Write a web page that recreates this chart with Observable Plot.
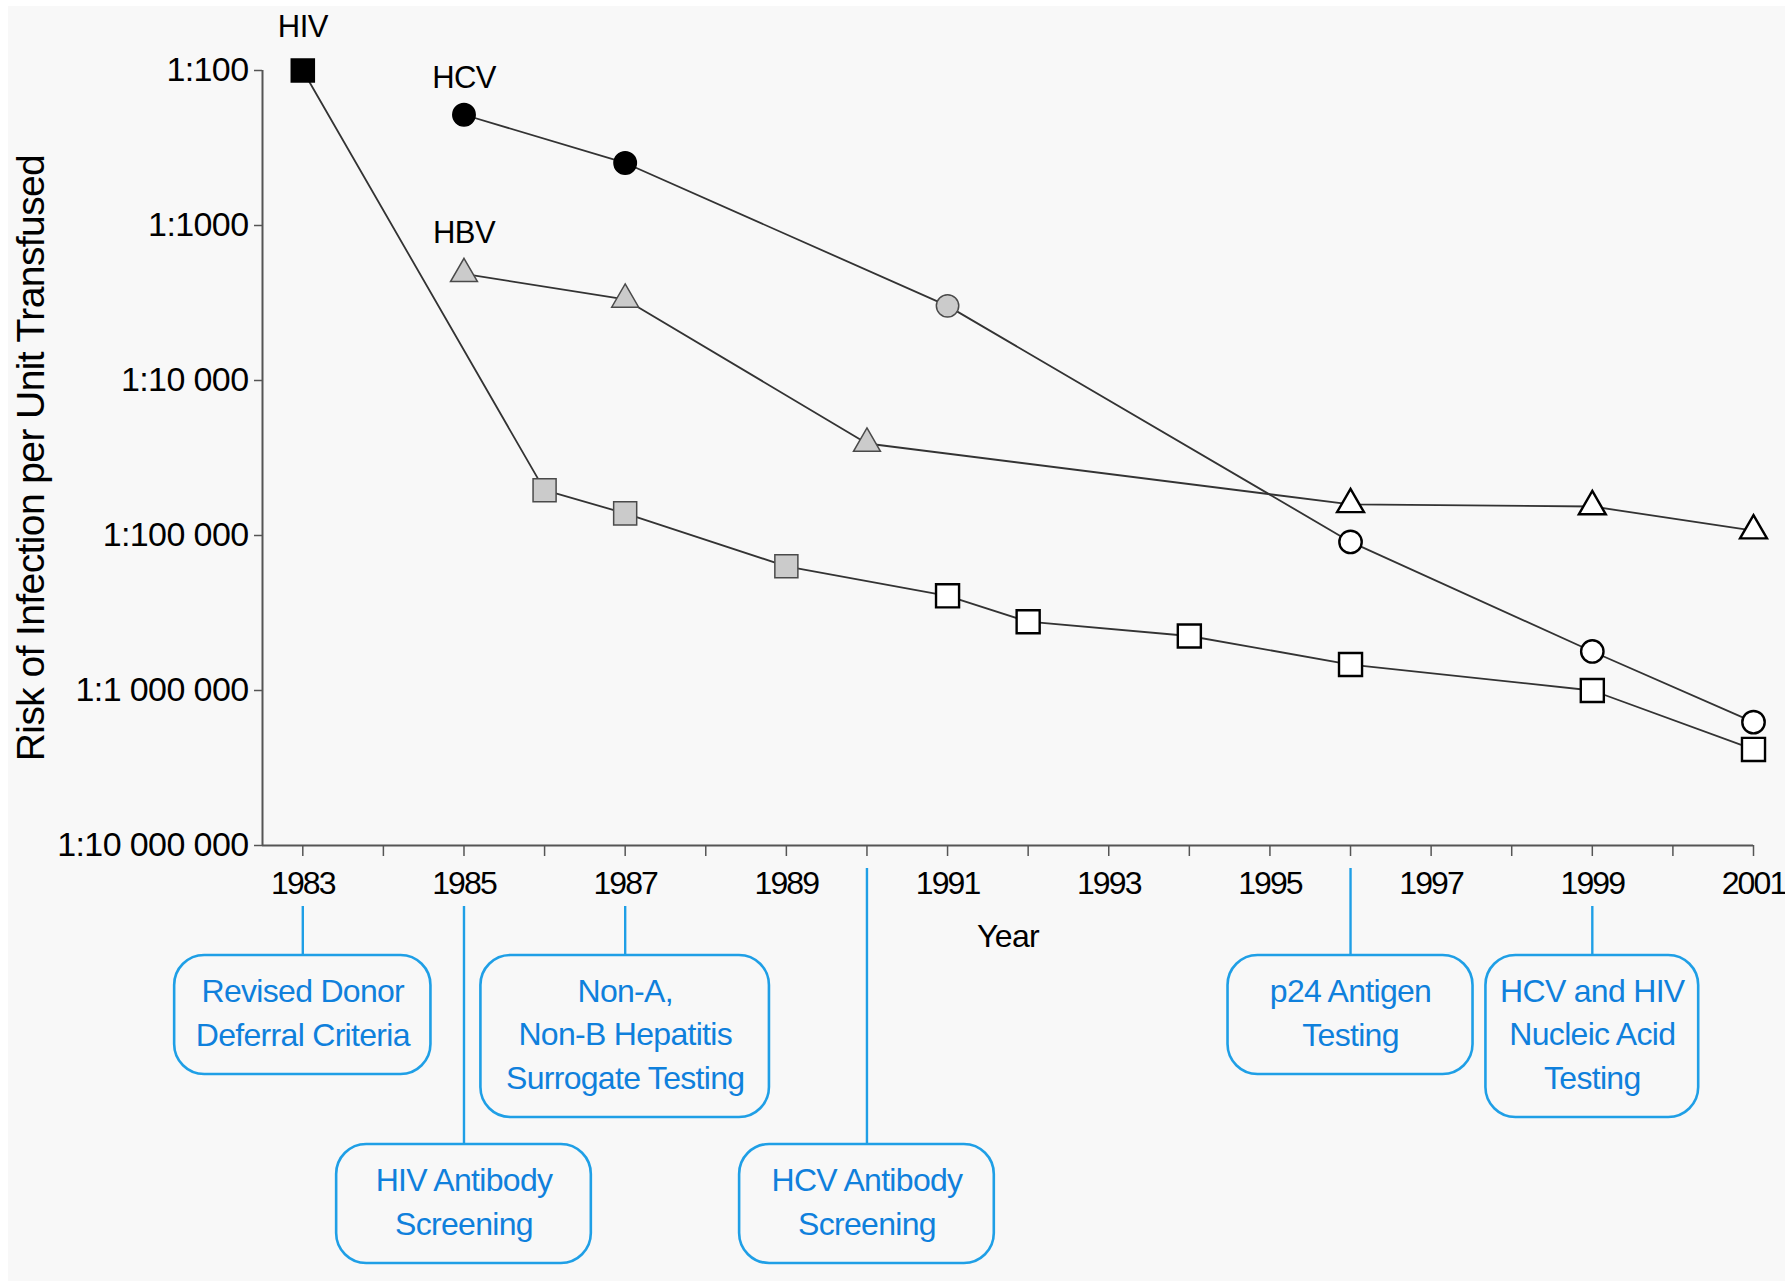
<!DOCTYPE html>
<html>
<head>
<meta charset="utf-8">
<script src="https://cdn.jsdelivr.net/npm/d3@7"></script>
<script src="https://cdn.jsdelivr.net/npm/@observablehq/plot@0.6"></script>
<style>
  html, body { margin: 0; padding: 0; background: #ffffff; overflow: hidden; }
  #wrap { position: relative; width: 1785px; height: 1281px; overflow: hidden; }
  #bg { position: absolute; left: 8px; top: 6px; right: 0; bottom: 0; background: #f8f8f8; }
  #chart { position: absolute; left: 0; top: 0; }
  #notes { position: absolute; left: 0; top: 846px; }
  #chart g[aria-label="x-axis tick label"] { letter-spacing: -1.9px; }
</style>
</head>
<body>
<div id="wrap"><div id="bg"></div><div id="chart"></div><div id="notes"></div></div>
<script>
// ---------------- data ----------------
const hivYears = [1983, 1986, 1987, 1989, 1991, 1992, 1994, 1996, 1999, 2001];
const hivRisk  = [100, 51000, 72000, 158000, 245000, 360000, 445000, 680000, 1000000, 2400000];
const hivStage = ["early", "mid", "mid", "mid", "late", "late", "late", "late", "late", "late"];

const hcvYears = [1985, 1987, 1991, 1996, 1999, 2001];
const hcvRisk  = [193, 395, 3300, 110000, 560000, 1600000];
const hcvStage = ["early", "early", "mid", "late", "late", "late"];

const hbvYears = [1985, 1987, 1990, 1996, 1999, 2001];
const hbvRisk  = [2050, 3000, 25500, 63000, 65000, 93000];
const hbvStage = ["mid", "mid", "mid", "late", "late", "late"];

const seriesNames = ["HIV", "HCV", "HBV"];

const yTicks = [100, 1000, 10000, 100000, 1000000, 10000000];
const yTickLabels = ["1:100", "1:1000", "1:10 000", "1:100 000", "1:1 000 000", "1:10 000 000"];
const xTicks = [1983, 1984, 1985, 1986, 1987, 1988, 1989, 1990, 1991, 1992, 1993, 1994, 1995, 1996, 1997, 1998, 1999, 2000, 2001];

const eventYears  = [1983, 1985, 1987, 1990, 1996, 1999];
const eventLabels = [
  "Revised Donor\nDeferral Criteria",
  "HIV Antibody\nScreening",
  "Non-A,\nNon-B Hepatitis\nSurrogate Testing",
  "HCV Antibody\nScreening",
  "p24 Antigen\nTesting",
  "HCV and HIV\nNucleic Acid\nTesting"
];

const yTitle = "Risk of Infection per Unit Transfused";
const xTitle = "Year";

// ---------------- layout / style ----------------
const W = 1785, H = 1281;
const FONT = "'Liberation Sans', Arial, Helvetica, sans-serif";
const xDomain = [1982.5, 2001];
const mLeft = 262, mRight = 32, mTop = 70, plotBottom = 845;
const lineColor = "#333333";
const blue = "#1f9fe6", blueText = "#0f80dc";

const symbolOf = {HIV: "square", HCV: "circle", HBV: "triangle"};
const rOf = {HIV: 13, HCV: 11.2, HBV: 10};
const labelDy = {HIV: -43, HCV: -37, HBV: -41};
const stageStyle = {
  early: {fill: "#000000", stroke: "#000000", strokeWidth: 1.5},
  mid:   {fill: "#cbcbcb", stroke: "#4a4a4a", strokeWidth: 1.5},
  late:  {fill: "#ffffff", stroke: "#000000", strokeWidth: 2.4}
};

const seriesData = {
  HIV: hivYears.map((y, i) => ({series: "HIV", year: y, risk: hivRisk[i], stage: hivStage[i]})),
  HCV: hcvYears.map((y, i) => ({series: "HCV", year: y, risk: hcvRisk[i], stage: hcvStage[i]})),
  HBV: hbvYears.map((y, i) => ({series: "HBV", year: y, risk: hbvRisk[i], stage: hbvStage[i]}))
};
const points = seriesNames.flatMap(s => seriesData[s]);
const tickLabel = new Map(yTicks.map((t, i) => [t, yTickLabels[i]]));

const marks = [
  Plot.ruleY([yTicks[yTicks.length - 1]], {stroke: "#555", strokeWidth: 2}),
  Plot.ruleX([xDomain[0]], {stroke: "#555", strokeWidth: 2}),
  Plot.axisY({ticks: yTicks, tickFormat: d => tickLabel.get(d), tickSize: 8, tickPadding: 6,
              fontSize: 34, label: null, stroke: "#555", strokeWidth: 1.5}),
  Plot.axisX({ticks: xTicks, tickFormat: d => (d % 2 ? String(d) : ""), tickSize: 11, tickPadding: 15,
              fontSize: 32, label: null, stroke: "#555", strokeWidth: 1.5}),
  Plot.line(points, {x: "year", y: "risk", z: "series", stroke: lineColor, strokeWidth: 1.8})
];
for (const s of seriesNames) {
  for (const st of ["early", "mid", "late"]) {
    const sub = seriesData[s].filter(d => d.stage === st);
    if (!sub.length) continue;
    marks.push(Plot.dot(sub, {x: "year", y: "risk", symbol: symbolOf[s], r: rOf[s], ...stageStyle[st]}));
  }
  marks.push(Plot.text(seriesData[s].slice(0, 1), {x: "year", y: "risk", text: "series", dy: labelDy[s],
    fontSize: 31, fill: "#000", textAnchor: "middle"}));
}
marks.push(Plot.text([yTitle], {frameAnchor: "left", text: d => d, rotate: -90, dx: -231,
  fontSize: 39, fill: "#000", textAnchor: "middle"}));
marks.push(Plot.text([xTitle], {frameAnchor: "bottom", text: d => d, dy: 91,
  fontSize: 32, fill: "#000", textAnchor: "middle", lineAnchor: "middle"}));

const chart = Plot.plot({
  width: W, height: H,
  marginLeft: mLeft, marginRight: mRight, marginTop: mTop, marginBottom: H - plotBottom,
  style: {background: "transparent", fontFamily: FONT, color: "#000", overflow: "visible", letterSpacing: "-0.6px"},
  x: {domain: xDomain},
  y: {type: "log", domain: [yTicks[0], yTicks[yTicks.length - 1]], reverse: true},
  marks
});
document.getElementById("chart").append(chart);

// ---------------- callout panel ----------------
const PH = H - plotBottom; // panel height in px (y scale in px below the axis)
const noteHalf = [1.59, 1.58, 1.79, 1.58, 1.52, 1.32];     // half box width in years
const noteRow  = ["a", "b", "a", "b", "a", "a"];
const rowTop = {a: 109, b: 298};
const boxH = {2: 119, 3: 162};
const connStartLabeled = 60, connStartPlain = 22;

const notesData = eventYears.map((y, i) => {
  const n = eventLabels[i].split("\n").length;
  const top = rowTop[noteRow[i]];
  return {year: y, label: eventLabels[i], half: noteHalf[i], top, bottom: top + boxH[n],
          start: (y % 2 ? connStartLabeled : connStartPlain)};
});

const notes = Plot.plot({
  width: W, height: PH,
  marginLeft: mLeft, marginRight: mRight, marginTop: 0, marginBottom: 0,
  style: {background: "transparent", fontFamily: FONT, overflow: "visible", letterSpacing: "-0.7px"},
  x: {domain: xDomain, axis: null},
  y: {domain: [0, PH], range: [0, PH], axis: null},
  marks: [
    Plot.ruleX(notesData, {x: "year", y1: "start", y2: "top", stroke: blue, strokeWidth: 2.4}),
    Plot.rect(notesData, {x1: d => d.year - d.half, x2: d => d.year + d.half, y1: "top", y2: "bottom",
      rx: 30, fill: "none", stroke: blue, strokeWidth: 2.6}),
    Plot.text(notesData, {x: "year", y: d => (d.top + d.bottom) / 2, text: "label", fontSize: 32,
      lineHeight: 1.36, dy: -5, fill: blueText, textAnchor: "middle", lineAnchor: "middle"})
  ]
});
document.getElementById("notes").append(notes);
</script>
</body>
</html>
